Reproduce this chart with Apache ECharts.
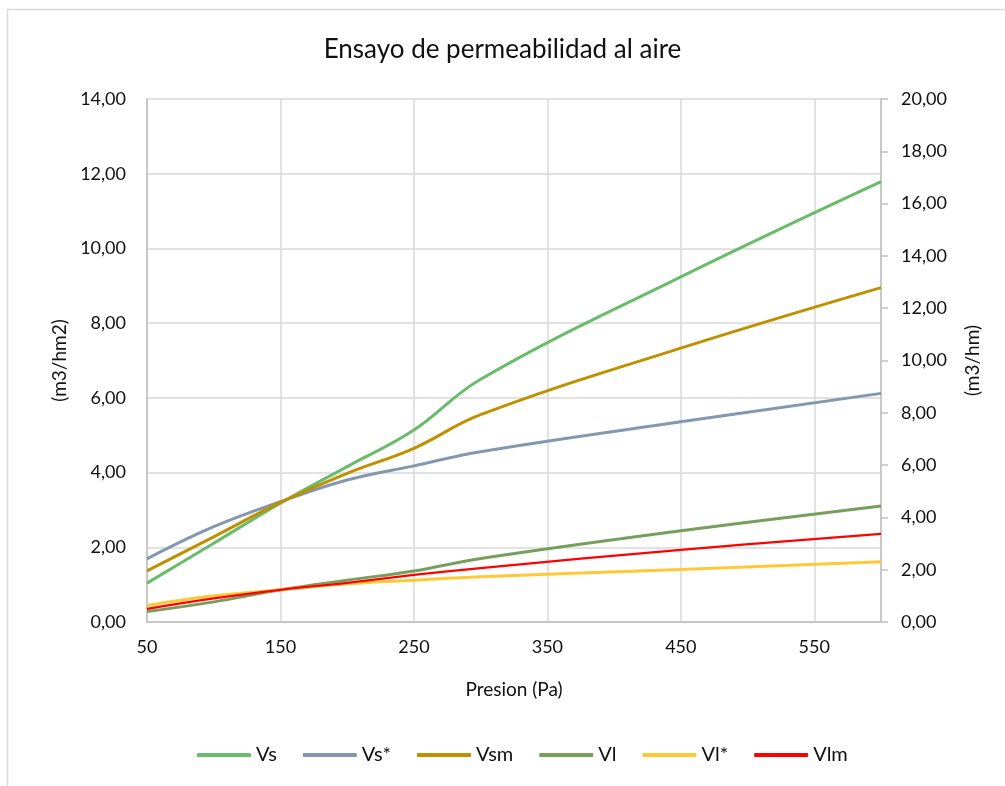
<!DOCTYPE html>
<html>
<head>
<meta charset="utf-8">
<title>Ensayo de permeabilidad al aire</title>
<script src="https://cdn.jsdelivr.net/npm/echarts@6/dist/echarts.min.js"></script>
<style>
    html, body { margin: 0; padding: 0; background: #fff; }
    #chart { width: 1005px; height: 786px; }
</style>
</head>
<body>
<div id="chart"></div>
<script>
// presion de ensayo (Pa)
const presion = [50, 100, 150, 200, 250, 300, 450, 600];

// eje izquierdo (m3/hm2)
const vs = [1.04, 2.11, 3.18, 4.16, 5.14, 6.50, 9.24, 11.79];
const vsStar = [1.69, 2.55, 3.22, 3.80, 4.18, 4.56, 5.36, 6.12];
const vsm = [1.37, 2.28, 3.20, 3.98, 4.65, 5.55, 7.33, 8.95];

// eje derecho (m3/hm)
const vl = [0.40, 0.77, 1.23, 1.60, 1.95, 2.43, 3.49, 4.44];
const vlStar = [0.63, 1.00, 1.23, 1.46, 1.60, 1.73, 2.01, 2.30];
const vlm = [0.50, 0.90, 1.23, 1.50, 1.80, 2.06, 2.76, 3.37];

const font = "Lato, 'Open Sans', sans-serif";
const textColor = "#111111";

function pairs(vals) {
    return presion.map((p, i) => [p, vals[i]]);
}

function fmt(v) {
    return v.toFixed(2).replace('.', ',');
}

function line(name, data, color, width, axis) {
    return {
        name: name,
        type: "line",
        yAxisIndex: axis,
        data: pairs(data),
        smooth: 0.4,
        symbol: "none",
        lineStyle: { color: color, width: width },
        itemStyle: { color: color }
    };
}

const chart = echarts.init(document.getElementById("chart"));
const options = {
    animation: false,
    title: {
        text: "Ensayo de permeabilidad al aire",
        left: "center",
        top: 32,
        textStyle: { fontFamily: font, fontSize: 26, fontWeight: "normal", color: textColor }
    },
    legend: {
        bottom: 16,
        left: 192,
        itemWidth: 54,
        itemHeight: 4,
        itemGap: 26,
        icon: "roundRect",
        textStyle: { fontFamily: font, fontSize: 20, color: textColor },
        data: ["Vs", "Vs*", "Vsm", "Vl", "Vl*", "Vlm"]
    },
    grid: {
        left: 147,
        right: 124,
        top: 99,
        bottom: 164
    },
    graphic: [{
        type: "rect",
        shape: { x: 7.5, y: 9.5, width: 1010, height: 800 },
        style: { fill: "none", stroke: "#D9D9D9", lineWidth: 1.5 },
        silent: true
    }],
    xAxis: {
        type: "value",
        min: 50,
        max: 600,
        interval: 100,
        name: "Presion (Pa)",
        nameLocation: "middle",
        nameGap: 58,
        nameTextStyle: { fontFamily: font, fontSize: 19, color: textColor },
        axisLine: { lineStyle: { color: "#BFBFBF", width: 1.5 } },
        axisTick: { show: false },
        axisLabel: {
            showMaxLabel: false,
            margin: 16,
            fontFamily: font,
            fontSize: 18,
            color: textColor
        },
        splitLine: { lineStyle: { color: "#D9D9D9", width: 1.5 } }
    },
    yAxis: [{
        type: "value",
        min: 0,
        max: 14,
        interval: 2,
        name: "(m3/hm2)",
        nameLocation: "middle",
        nameGap: 76,
        nameRotate: 90,
        nameTextStyle: { fontFamily: font, fontSize: 19, color: textColor },
        axisLine: { show: true, lineStyle: { color: "#BFBFBF", width: 1.5 } },
        axisTick: { show: false },
        axisLabel: {
            margin: 21,
            fontFamily: font,
            fontSize: 18,
            color: textColor,
            formatter: fmt
        },
        splitLine: { lineStyle: { color: "#D9D9D9", width: 1.5 } }
    }, {
        type: "value",
        min: 0,
        max: 20,
        interval: 2,
        position: "right",
        name: "(m3/hm)",
        nameLocation: "middle",
        nameGap: 82,
        nameRotate: 90,
        nameTextStyle: { fontFamily: font, fontSize: 19, color: textColor },
        axisLine: { show: true, lineStyle: { color: "#BFBFBF", width: 1.5 } },
        axisTick: { show: true, length: 7, lineStyle: { color: "#BFBFBF", width: 1.5 } },
        axisLabel: {
            margin: 20,
            fontFamily: font,
            fontSize: 18,
            color: textColor,
            formatter: fmt
        },
        splitLine: { show: false }
    }],
    series: [
        line("Vs", vs, "#69BC6B", 3, 0),
        line("Vs*", vsStar, "#8497B0", 3, 0),
        line("Vsm", vsm, "#BF9000", 3, 0),
        line("Vl", vl, "#779F5C", 3, 1),
        line("Vl*", vlStar, "#FFC936", 3, 1),
        line("Vlm", vlm, "#FF0000", 2.25, 1)
    ]
};
chart.setOption(options);
</script>
</body>
</html>
